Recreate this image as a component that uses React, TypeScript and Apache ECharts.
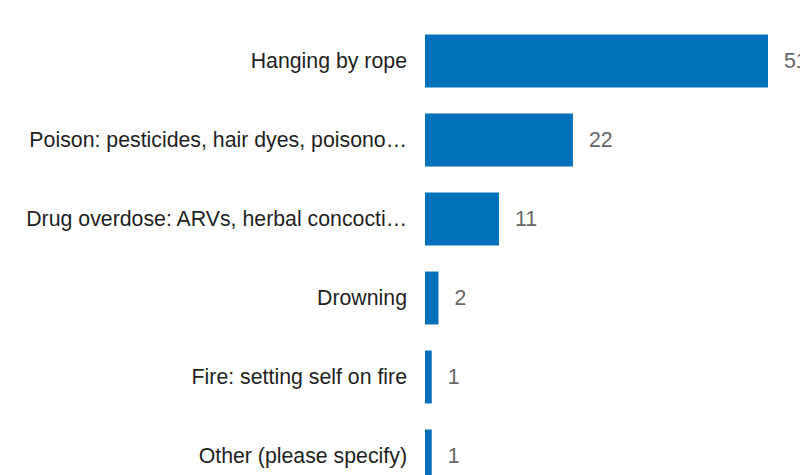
import React, { useEffect, useRef } from "react";
import * as echarts from "echarts";

const categories = [
  "Hanging by rope",
  "Poison: pesticides, hair dyes, poisono…",
  "Drug overdose: ARVs, herbal concocti…",
  "Drowning",
  "Fire: setting self on fire",
  "Other (please specify)",
];
const values = [51, 22, 11, 2, 1, 1];

export default function App() {
  const ref = useRef<HTMLDivElement>(null);
  useEffect(() => {
    if (!ref.current) return;
    const chart = echarts.init(ref.current, null, { renderer: "svg" });
    chart.setOption({
      animation: false,
      grid: { left: 425, width: 343, top: 21.5, height: 474 },
      xAxis: {
        type: "value",
        min: 0,
        max: 51,
        show: false,
        splitLine: { show: false },
      },
      yAxis: {
        type: "category",
        inverse: true,
        data: categories,
        axisLine: { show: false },
        axisTick: { show: false },
        axisLabel: {
          margin: 18,
          color: "#1f1f1f",
          fontSize: 21.3,
          fontFamily: "'Liberation Sans', Arial, sans-serif",
        },
      },
      series: [
        {
          type: "bar",
          data: values,
          barCategoryGap: "33%",
          itemStyle: { color: "#0070BA" },
          label: {
            show: true,
            position: "right",
            distance: 16,
            color: "#666",
            fontSize: 21.3,
            fontFamily: "'Liberation Sans', Arial, sans-serif",
          },
        },
      ],
    });
    return () => chart.dispose();
  }, []);
  return (
    <div
      ref={ref}
      style={{ position: "absolute", left: 0, top: 0, width: 800, height: 520, background: "#fff" }}
    />
  );
}
